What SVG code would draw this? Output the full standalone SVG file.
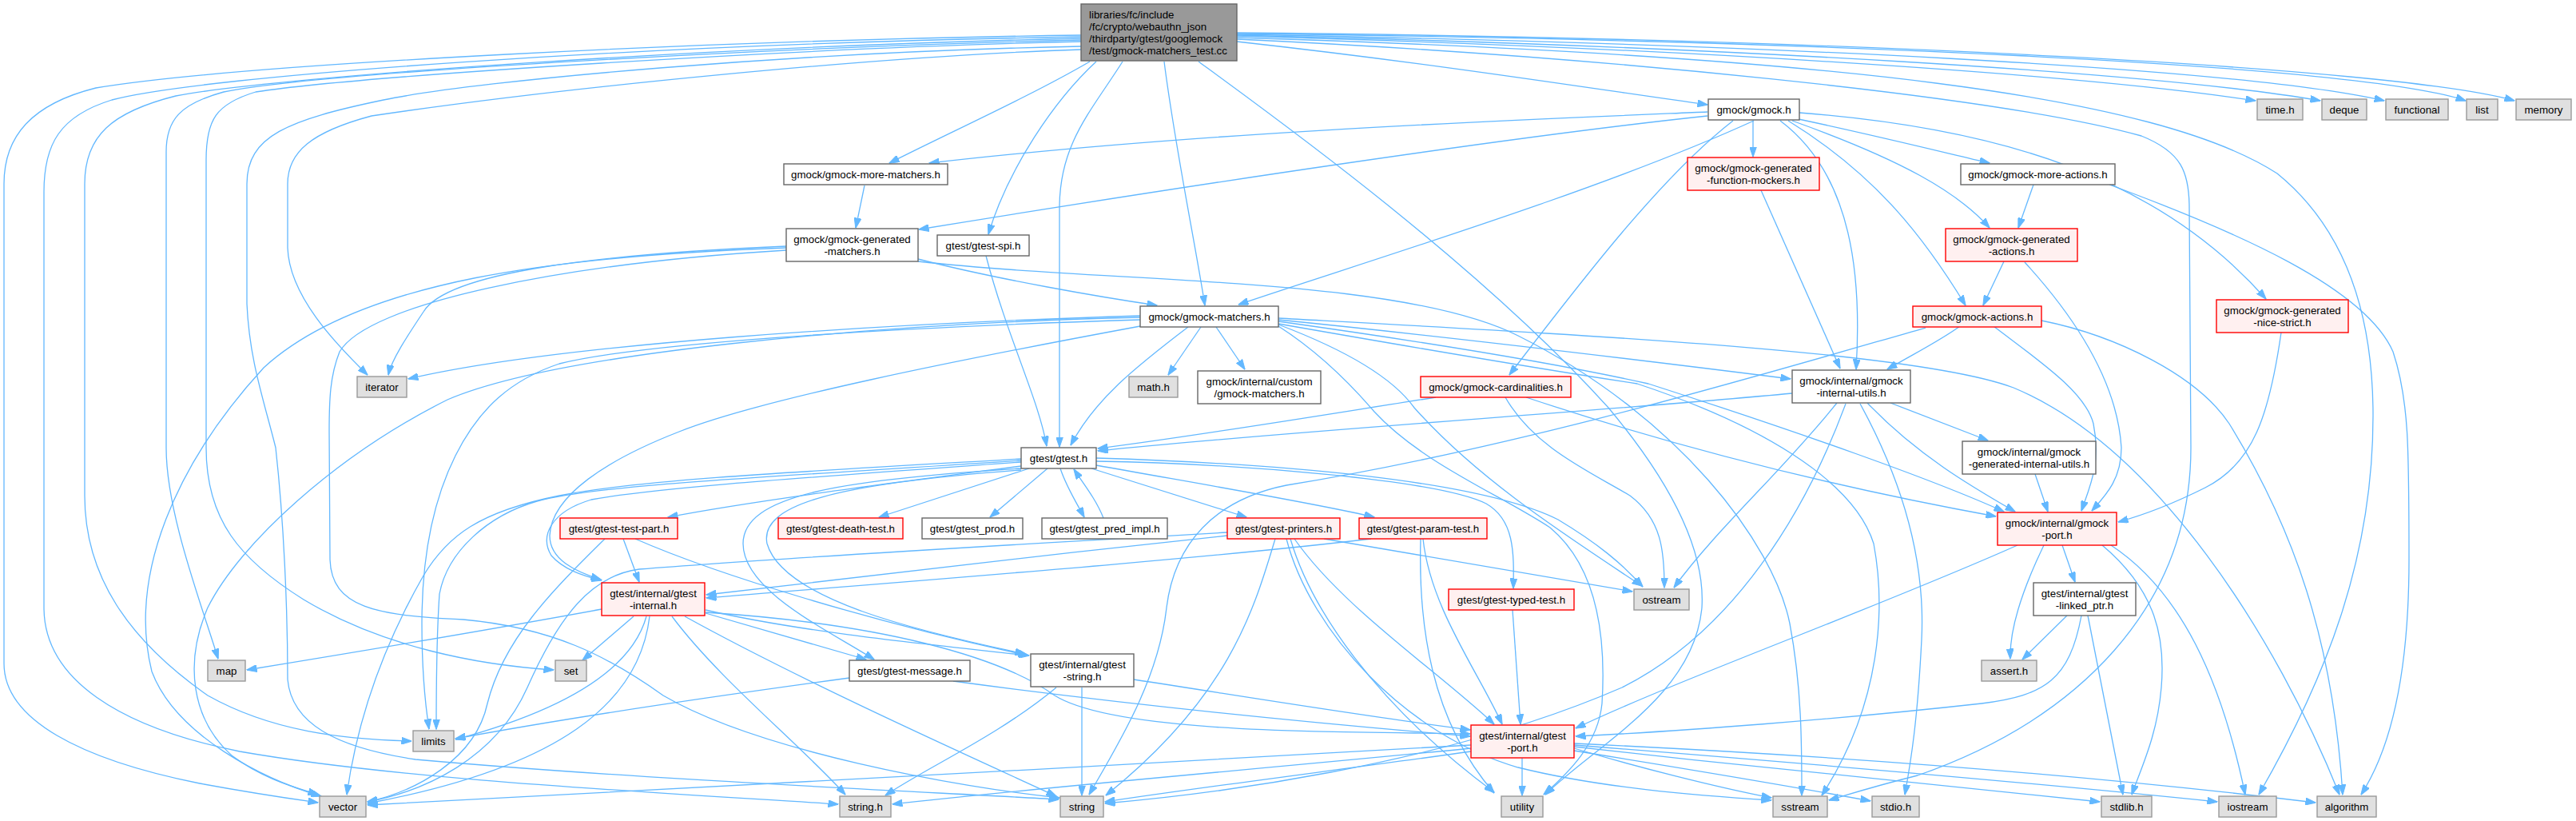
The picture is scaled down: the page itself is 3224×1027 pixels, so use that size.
<svg xmlns="http://www.w3.org/2000/svg" width="3224" height="1027" viewBox="0 0 3224 1027">
<style>
text{font-family:"Liberation Sans",Arial,Helvetica,sans-serif;font-size:13.3px;fill:#000}
.c{text-anchor:middle}
.n{fill:#fff;stroke:#666;stroke-width:1.4}
.s{fill:#e0e0e0;stroke:#999;stroke-width:1.4}
.r{fill:#fff0f0;stroke:#f00;stroke-width:1.4}
.m{fill:#999;stroke:#666;stroke-width:1.4}
#edges path{fill:none;stroke:#63b8ff;stroke-width:1.3;marker-end:url(#a)}
</style>
<defs>
<marker id="a" markerWidth="13" markerHeight="9" refX="12.5" refY="4.5" orient="auto" markerUnits="userSpaceOnUse">
<path d="M0,0 L13,4.5 L0,9 Z" fill="#63b8ff" stroke="#63b8ff" stroke-width="1"/>
</marker>
</defs>
<rect width="3224" height="1027" fill="#fff"/>
<g id="edges">
<path d="M1364,77 C1290,120 1190,165 1113,204"/>
<path d="M1372,77 C1320,125 1262,210 1237,293"/>
<path d="M1405,77 C1365,140 1326,180 1326,260 L1326,559"/>
<path d="M1457,77 C1470,180 1495,300 1508,382"/>
<path d="M1548,52 C1800,80 2000,112 2137,131"/>
<path d="M1548,45 C2100,60 2600,92 2823,126"/>
<path d="M1548,44 C2150,58 2700,90 2904,126"/>
<path d="M1548,43 C2200,55 2800,84 2984,126"/>
<path d="M1548,42 C2250,50 2950,80 3086,126"/>
<path d="M1548,41 C2300,48 3000,84 3147,126"/>
<path d="M1548,47 C2300,70 2700,120 2850,217 C2940,290 2970,400 2970,520 C2970,700 2910,850 2827,994"/>
<path d="M1548,49 C2000,70 2500,120 2680,170 C2730,190 2740,215 2740,260 L2742,560 C2742,760 2600,900 2400,970 C2340,985 2310,995 2289,1001"/>
<path d="M1500,77 C1600,150 1850,330 2013,510 C2080,590 2135,680 2130,760 C2120,870 2000,930 1934,994"/>
<path d="M1353,62 C1100,70 700,110 465,145 C390,165 360,190 360,230 L360,310 C362,370 420,430 460,469"/>
<path d="M1353,50 C1000,58 400,90 280,115 C225,130 208,150 208,190 L208,560 C208,640 250,750 273,824"/>
<path d="M1353,52 C1000,60 450,95 320,115 C270,130 258,150 258,200 L258,560 C258,650 300,700 380,750 C480,810 600,832 693,838"/>
<path d="M1353,48 C900,58 350,95 220,120 C140,140 106,170 106,230 L106,620 C106,720 160,800 260,870 C340,915 430,925 515,927"/>
<path d="M1353,46 C800,55 250,95 140,125 C75,145 55,180 55,240 L55,760 C55,850 150,910 300,940 C500,975 800,990 1049,1006"/>
<path d="M1353,44 C900,50 300,80 120,110 C40,130 5,170 5,230 L5,830 C5,900 100,950 250,980 C320,993 370,1000 398,1004"/>
<path d="M1353,58 C1000,65 600,100 480,125 C360,150 309,170 309,230 L309,380 C312,450 330,500 345,560 C355,650 360,760 360,850 C365,905 420,935 520,950 C800,975 1150,990 1325,1000"/>
<path d="M2137,140 C1900,150 1500,165 1163,204"/>
<path d="M2137,145 C1900,170 1500,230 1150,287"/>
<path d="M2195,151 C2000,240 1700,330 1550,381"/>
<path d="M2169,151 C2080,220 1980,350 1889,469"/>
<path d="M2194,151 L2194,196"/>
<path d="M2228,151 C2320,220 2330,350 2323,462"/>
<path d="M2251,149 C2350,170 2430,190 2490,204"/>
<path d="M2243,151 C2380,200 2450,240 2490,285"/>
<path d="M2238,151 C2350,220 2410,300 2460,382"/>
<path d="M2252,141 C2500,160 2700,220 2836,374"/>
<path d="M1082,232 L1071,285"/>
<path d="M1234,320 C1260,420 1300,500 1310,558"/>
<path d="M1149,324 C1250,350 1380,372 1448,382"/>
<path d="M1149,327 C1400,355 1750,345 1900,420 C2100,520 2220,680 2240,780 C2255,860 2255,930 2255,995"/>
<path d="M984,308 C750,318 560,340 530,390 C510,420 490,450 486,469"/>
<path d="M984,310 C700,320 450,350 330,460 C220,580 160,720 190,840 C220,920 330,975 402,996"/>
<path d="M984,313 C700,330 460,380 425,440 C413,470 412,500 412,540 L413,700 C415,760 470,770 580,775 C690,785 760,820 830,870 C950,940 1200,985 1326,998"/>
<path d="M1503,409 L1462,469"/>
<path d="M1522,409 L1558,462"/>
<path d="M1487,409 C1420,460 1370,500 1340,557"/>
<path d="M1427,395 C1100,405 700,430 511,474"/>
<path d="M1427,400 C1100,410 800,430 700,455 C640,475 600,510 570,570 C540,630 528,700 528,780 C528,830 532,880 537,912"/>
<path d="M1427,397 C1100,405 700,440 560,500 C420,570 300,680 260,760 C230,830 240,900 290,945 C330,975 370,985 398,994"/>
<path d="M1427,408 C1200,450 950,500 850,540 C760,575 690,620 688,670 C688,700 720,715 752,725"/>
<path d="M1600,400 C1800,420 2050,450 2241,474"/>
<path d="M1600,402 C1800,430 1950,455 2063,480 C2250,540 2420,600 2508,640"/>
<path d="M1600,405 C1800,440 1950,465 2049,480 C2200,530 2320,600 2345,680 C2360,760 2355,880 2280,995"/>
<path d="M1600,406 C1690,440 1745,475 1770,510 C1850,600 1960,670 2055,733"/>
<path d="M1600,408 C1650,440 1690,480 1720,515 C1780,580 1880,620 1940,660 C2000,710 2010,800 2005,880 C2000,930 1965,965 1932,994"/>
<path d="M1600,398 C2000,420 2400,440 2520,485 C2700,560 2850,800 2928,994"/>
<path d="M1285,582 C1150,600 950,625 836,647"/>
<path d="M1288,586 L1100,647"/>
<path d="M1311,586 L1239,647"/>
<path d="M1327,586 C1335,610 1348,630 1357,647"/>
<path d="M1381,648 C1372,625 1356,605 1344,587"/>
<path d="M1366,586 L1560,647"/>
<path d="M1372,582 C1500,605 1650,630 1720,647"/>
<path d="M1372,577 C1550,580 1800,600 1860,630 C1895,650 1895,690 1894,736"/>
<path d="M1372,573 C1600,580 1850,600 1950,650 C2000,680 2030,705 2056,734"/>
<path d="M1278,586 C1050,600 930,620 930,680 C930,740 1040,790 1094,825"/>
<path d="M1278,588 C1050,605 950,630 960,680 C980,750 1150,790 1283,818"/>
<path d="M1278,574 C1000,590 800,600 700,620 C600,640 560,670 530,720 C490,790 450,880 434,994"/>
<path d="M1278,576 C1000,595 750,605 672,627 C610,645 560,690 550,743 C546,800 546,870 546,912"/>
<path d="M1278,578 C1000,598 820,610 740,625 C690,640 675,670 690,695 C705,712 728,720 753,726"/>
<path d="M780,674 L800,728"/>
<path d="M757,674 C690,740 630,800 610,880 C595,950 520,990 460,1003"/>
<path d="M795,674 C900,720 1100,780 1287,820"/>
<path d="M753,762 C600,790 450,815 309,838"/>
<path d="M793,771 L729,826"/>
<path d="M809,771 C790,840 700,890 570,925"/>
<path d="M813,771 C800,880 700,960 460,1005"/>
<path d="M841,771 C900,850 1000,930 1058,994"/>
<path d="M857,771 C1000,850 1200,940 1322,996"/>
<path d="M883,767 L1084,825"/>
<path d="M883,763 C1000,790 1150,805 1288,820"/>
<path d="M883,766 C1100,780 1250,820 1320,870 C1400,920 1700,915 1840,918"/>
<path d="M1536,670 C1300,695 1000,730 884,744"/>
<path d="M1657,674 L2043,740"/>
<path d="M1615,674 C1640,760 1720,880 1870,991"/>
<path d="M1610,674 C1640,790 1760,920 1900,960 C2000,985 2120,995 2217,1001"/>
<path d="M1620,674 C1680,760 1800,840 1870,906"/>
<path d="M1596,674 C1570,760 1540,870 1384,995"/>
<path d="M1536,666 C1200,685 950,700 800,712 C740,720 700,770 660,860 C620,950 530,990 460,1003"/>
<path d="M1716,674 C1500,700 1100,730 884,748"/>
<path d="M1781,674 C1790,760 1850,840 1880,906"/>
<path d="M1778,674 C1775,780 1790,900 1870,992"/>
<path d="M1893,763 L1903,906"/>
<path d="M1322,860 C1250,920 1160,960 1108,995"/>
<path d="M1354,860 L1354,995"/>
<path d="M1419,850 C1550,870 1700,895 1840,913"/>
<path d="M1063,848 C900,870 700,900 570,924"/>
<path d="M1193,852 C1400,880 1650,905 1840,921"/>
<path d="M1841,932 C1400,960 800,985 460,1007"/>
<path d="M1841,936 C1600,960 1300,985 1117,1006"/>
<path d="M1841,940 C1700,960 1500,985 1383,1003"/>
<path d="M1905,948 L1905,995"/>
<path d="M1970,936 C2050,960 2150,985 2217,998"/>
<path d="M1970,939 C2100,960 2250,985 2341,1002"/>
<path d="M1970,934 C2200,960 2450,985 2628,1003"/>
<path d="M1970,932 C2300,958 2600,985 2775,1003"/>
<path d="M1970,930 C2400,950 2700,980 2898,1004"/>
<path d="M2525,682 C2350,760 2100,850 1972,911"/>
<path d="M2558,682 C2530,740 2515,790 2516,824"/>
<path d="M2581,682 L2597,728"/>
<path d="M2631,682 C2700,740 2710,800 2705,860 C2700,920 2680,960 2668,994"/>
<path d="M2642,682 C2730,740 2780,850 2810,994"/>
<path d="M2587,770 L2531,825"/>
<path d="M2613,770 L2657,994"/>
<path d="M2605,770 C2590,850 2560,870 2480,880 C2300,900 2100,915 1972,921"/>
<path d="M2547,593 L2563,640"/>
<path d="M2366,504 L2488,551"/>
<path d="M2337,504 C2400,570 2470,610 2522,640"/>
<path d="M2299,504 C2230,590 2150,660 2095,735"/>
<path d="M2243,492 C2000,515 1600,540 1374,564"/>
<path d="M2310,505 C2260,640 2170,790 2030,860 C1800,960 1500,995 1383,1005"/>
<path d="M2328,505 C2380,600 2410,700 2405,800 C2400,900 2392,950 2384,994"/>
<path d="M2204,238 L2303,461"/>
<path d="M1797,497 C1650,520 1500,545 1374,561"/>
<path d="M1884,497 C1920,560 1990,590 2040,620 C2080,650 2083,690 2083,735"/>
<path d="M1910,497 C2100,560 2300,610 2498,646"/>
<path d="M2453,408 C2430,425 2400,440 2362,462"/>
<path d="M2495,408 C2550,450 2610,490 2620,530 C2630,580 2615,610 2605,639"/>
<path d="M2555,401 C2650,420 2750,470 2790,530 C2870,660 2920,800 2932,994"/>
<path d="M2410,410 C2200,470 1900,560 1610,607 C1520,625 1470,680 1460,760 C1450,850 1400,930 1363,994"/>
<path d="M2508,327 L2482,382"/>
<path d="M2534,328 C2600,400 2650,480 2655,560 C2655,600 2635,620 2618,639"/>
<path d="M2545,231 L2526,285"/>
<path d="M2640,231 C2800,290 2960,360 2995,440 C3015,500 3015,560 3015,700 C3015,850 2990,940 2955,994"/>
<path d="M2855,416 C2840,520 2820,580 2760,610 C2720,630 2680,645 2651,653"/>
</g>
<g id="n-main"><rect class="m" x="1353" y="5" width="195" height="71"/><text x="1363" y="23">libraries/fc/include</text><text x="1363" y="38">/fc/crypto/webauthn_json</text><text x="1363" y="53">/thirdparty/gtest/googlemock</text><text x="1363" y="68">/test/gmock-matchers_test.cc</text></g>
<g id="n-more-matchers"><rect class="n" x="981" y="205" width="205" height="26"/><text class="c" x="1083.5" y="223">gmock/gmock-more-matchers.h</text></g>
<g id="n-gen-matchers"><rect class="n" x="984" y="286" width="165" height="41"/><text class="c" x="1066.5" y="304">gmock/gmock-generated</text><text class="c" x="1066.5" y="319">-matchers.h</text></g>
<g id="n-spi"><rect class="n" x="1173" y="294" width="115" height="26"/><text class="c" x="1230.5" y="312">gtest/gtest-spi.h</text></g>
<g id="n-gmock-matchers"><rect class="n" x="1427" y="383" width="173" height="26"/><text class="c" x="1513.5" y="401">gmock/gmock-matchers.h</text></g>
<g id="n-math"><rect class="s" x="1413" y="471" width="61" height="26"/><text class="c" x="1443.5" y="489">math.h</text></g>
<g id="n-custom"><rect class="n" x="1499" y="464" width="154" height="41"/><text class="c" x="1576" y="482">gmock/internal/custom</text><text class="c" x="1576" y="497">/gmock-matchers.h</text></g>
<g id="n-iterator"><rect class="s" x="447" y="471" width="62" height="26"/><text class="c" x="478" y="489">iterator</text></g>
<g id="n-gmock"><rect class="n" x="2138" y="124" width="114" height="26"/><text class="c" x="2195" y="142">gmock/gmock.h</text></g>
<g id="n-func-mockers"><rect class="r" x="2112" y="197" width="165" height="41"/><text class="c" x="2194.5" y="215">gmock/gmock-generated</text><text class="c" x="2194.5" y="230">-function-mockers.h</text></g>
<g id="n-cardinalities"><rect class="r" x="1778" y="471" width="188" height="26"/><text class="c" x="1872" y="489">gmock/gmock-cardinalities.h</text></g>
<g id="n-internal-utils"><rect class="n" x="2243" y="463" width="148" height="41"/><text class="c" x="2317" y="481">gmock/internal/gmock</text><text class="c" x="2317" y="496">-internal-utils.h</text></g>
<g id="n-time"><rect class="s" x="2825" y="124" width="57" height="26"/><text class="c" x="2853.5" y="142">time.h</text></g>
<g id="n-deque"><rect class="s" x="2906" y="124" width="56" height="26"/><text class="c" x="2934" y="142">deque</text></g>
<g id="n-functional"><rect class="s" x="2986" y="124" width="78" height="26"/><text class="c" x="3025" y="142">functional</text></g>
<g id="n-list"><rect class="s" x="3087" y="124" width="39" height="26"/><text class="c" x="3106.5" y="142">list</text></g>
<g id="n-memory"><rect class="s" x="3149" y="124" width="69" height="26"/><text class="c" x="3183.5" y="142">memory</text></g>
<g id="n-more-actions"><rect class="n" x="2454" y="205" width="193" height="26"/><text class="c" x="2550.5" y="223">gmock/gmock-more-actions.h</text></g>
<g id="n-gen-actions"><rect class="r" x="2435" y="286" width="165" height="41"/><text class="c" x="2517.5" y="304">gmock/gmock-generated</text><text class="c" x="2517.5" y="319">-actions.h</text></g>
<g id="n-actions"><rect class="r" x="2394" y="383" width="161" height="26"/><text class="c" x="2474.5" y="401">gmock/gmock-actions.h</text></g>
<g id="n-nice-strict"><rect class="r" x="2774" y="375" width="165" height="41"/><text class="c" x="2856.5" y="393">gmock/gmock-generated</text><text class="c" x="2856.5" y="408">-nice-strict.h</text></g>
<g id="n-map"><rect class="s" x="260" y="826" width="47" height="26"/><text class="c" x="283.5" y="844">map</text></g>
<g id="n-set"><rect class="s" x="695" y="826" width="39" height="26"/><text class="c" x="714.5" y="844">set</text></g>
<g id="n-limits"><rect class="s" x="517" y="914" width="51" height="26"/><text class="c" x="542.5" y="932">limits</text></g>
<g id="n-vector"><rect class="s" x="400" y="996" width="58" height="26"/><text class="c" x="429" y="1014">vector</text></g>
<g id="n-test-part"><rect class="r" x="701" y="648" width="147" height="26"/><text class="c" x="774.5" y="666">gtest/gtest-test-part.h</text></g>
<g id="n-gtest-internal"><rect class="r" x="753" y="729" width="129" height="41"/><text class="c" x="817.5" y="747">gtest/internal/gtest</text><text class="c" x="817.5" y="762">-internal.h</text></g>
<g id="n-gtest"><rect class="n" x="1278" y="560" width="94" height="26"/><text class="c" x="1325" y="578">gtest/gtest.h</text></g>
<g id="n-death-test"><rect class="r" x="974" y="648" width="156" height="26"/><text class="c" x="1052" y="666">gtest/gtest-death-test.h</text></g>
<g id="n-prod"><rect class="n" x="1154" y="648" width="126" height="26"/><text class="c" x="1217" y="666">gtest/gtest_prod.h</text></g>
<g id="n-pred-impl"><rect class="n" x="1304" y="648" width="157" height="26"/><text class="c" x="1382.5" y="666">gtest/gtest_pred_impl.h</text></g>
<g id="n-printers"><rect class="r" x="1536" y="648" width="141" height="26"/><text class="c" x="1606.5" y="666">gtest/gtest-printers.h</text></g>
<g id="n-message"><rect class="n" x="1063" y="826" width="151" height="26"/><text class="c" x="1138.5" y="844">gtest/gtest-message.h</text></g>
<g id="n-gtest-string"><rect class="n" x="1290" y="818" width="129" height="41"/><text class="c" x="1354.5" y="836">gtest/internal/gtest</text><text class="c" x="1354.5" y="851">-string.h</text></g>
<g id="n-string-h"><rect class="s" x="1051" y="996" width="64" height="26"/><text class="c" x="1083" y="1014">string.h</text></g>
<g id="n-string"><rect class="s" x="1327" y="996" width="54" height="26"/><text class="c" x="1354" y="1014">string</text></g>
<g id="n-param-test"><rect class="r" x="1701" y="648" width="160" height="26"/><text class="c" x="1781" y="666">gtest/gtest-param-test.h</text></g>
<g id="n-typed-test"><rect class="r" x="1813" y="737" width="157" height="26"/><text class="c" x="1891.5" y="755">gtest/gtest-typed-test.h</text></g>
<g id="n-ostream"><rect class="s" x="2045" y="737" width="69" height="26"/><text class="c" x="2079.5" y="755">ostream</text></g>
<g id="n-gtest-port"><rect class="r" x="1841" y="907" width="129" height="41"/><text class="c" x="1905.5" y="925">gtest/internal/gtest</text><text class="c" x="1905.5" y="940">-port.h</text></g>
<g id="n-utility"><rect class="s" x="1879" y="996" width="52" height="26"/><text class="c" x="1905" y="1014">utility</text></g>
<g id="n-sstream"><rect class="s" x="2219" y="996" width="68" height="26"/><text class="c" x="2253" y="1014">sstream</text></g>
<g id="n-stdio"><rect class="s" x="2343" y="996" width="59" height="26"/><text class="c" x="2372.5" y="1014">stdio.h</text></g>
<g id="n-gen-internal-utils"><rect class="n" x="2456" y="552" width="167" height="41"/><text class="c" x="2539.5" y="570">gmock/internal/gmock</text><text class="c" x="2539.5" y="585">-generated-internal-utils.h</text></g>
<g id="n-gmock-port"><rect class="r" x="2500" y="641" width="149" height="41"/><text class="c" x="2574.5" y="659">gmock/internal/gmock</text><text class="c" x="2574.5" y="674">-port.h</text></g>
<g id="n-linked-ptr"><rect class="n" x="2545" y="729" width="128" height="41"/><text class="c" x="2609" y="747">gtest/internal/gtest</text><text class="c" x="2609" y="762">-linked_ptr.h</text></g>
<g id="n-assert"><rect class="s" x="2480" y="826" width="69" height="26"/><text class="c" x="2514.5" y="844">assert.h</text></g>
<g id="n-stdlib"><rect class="s" x="2630" y="996" width="63" height="26"/><text class="c" x="2661.5" y="1014">stdlib.h</text></g>
<g id="n-iostream"><rect class="s" x="2777" y="996" width="72" height="26"/><text class="c" x="2813" y="1014">iostream</text></g>
<g id="n-algorithm"><rect class="s" x="2900" y="996" width="74" height="26"/><text class="c" x="2937" y="1014">algorithm</text></g>
</svg>
